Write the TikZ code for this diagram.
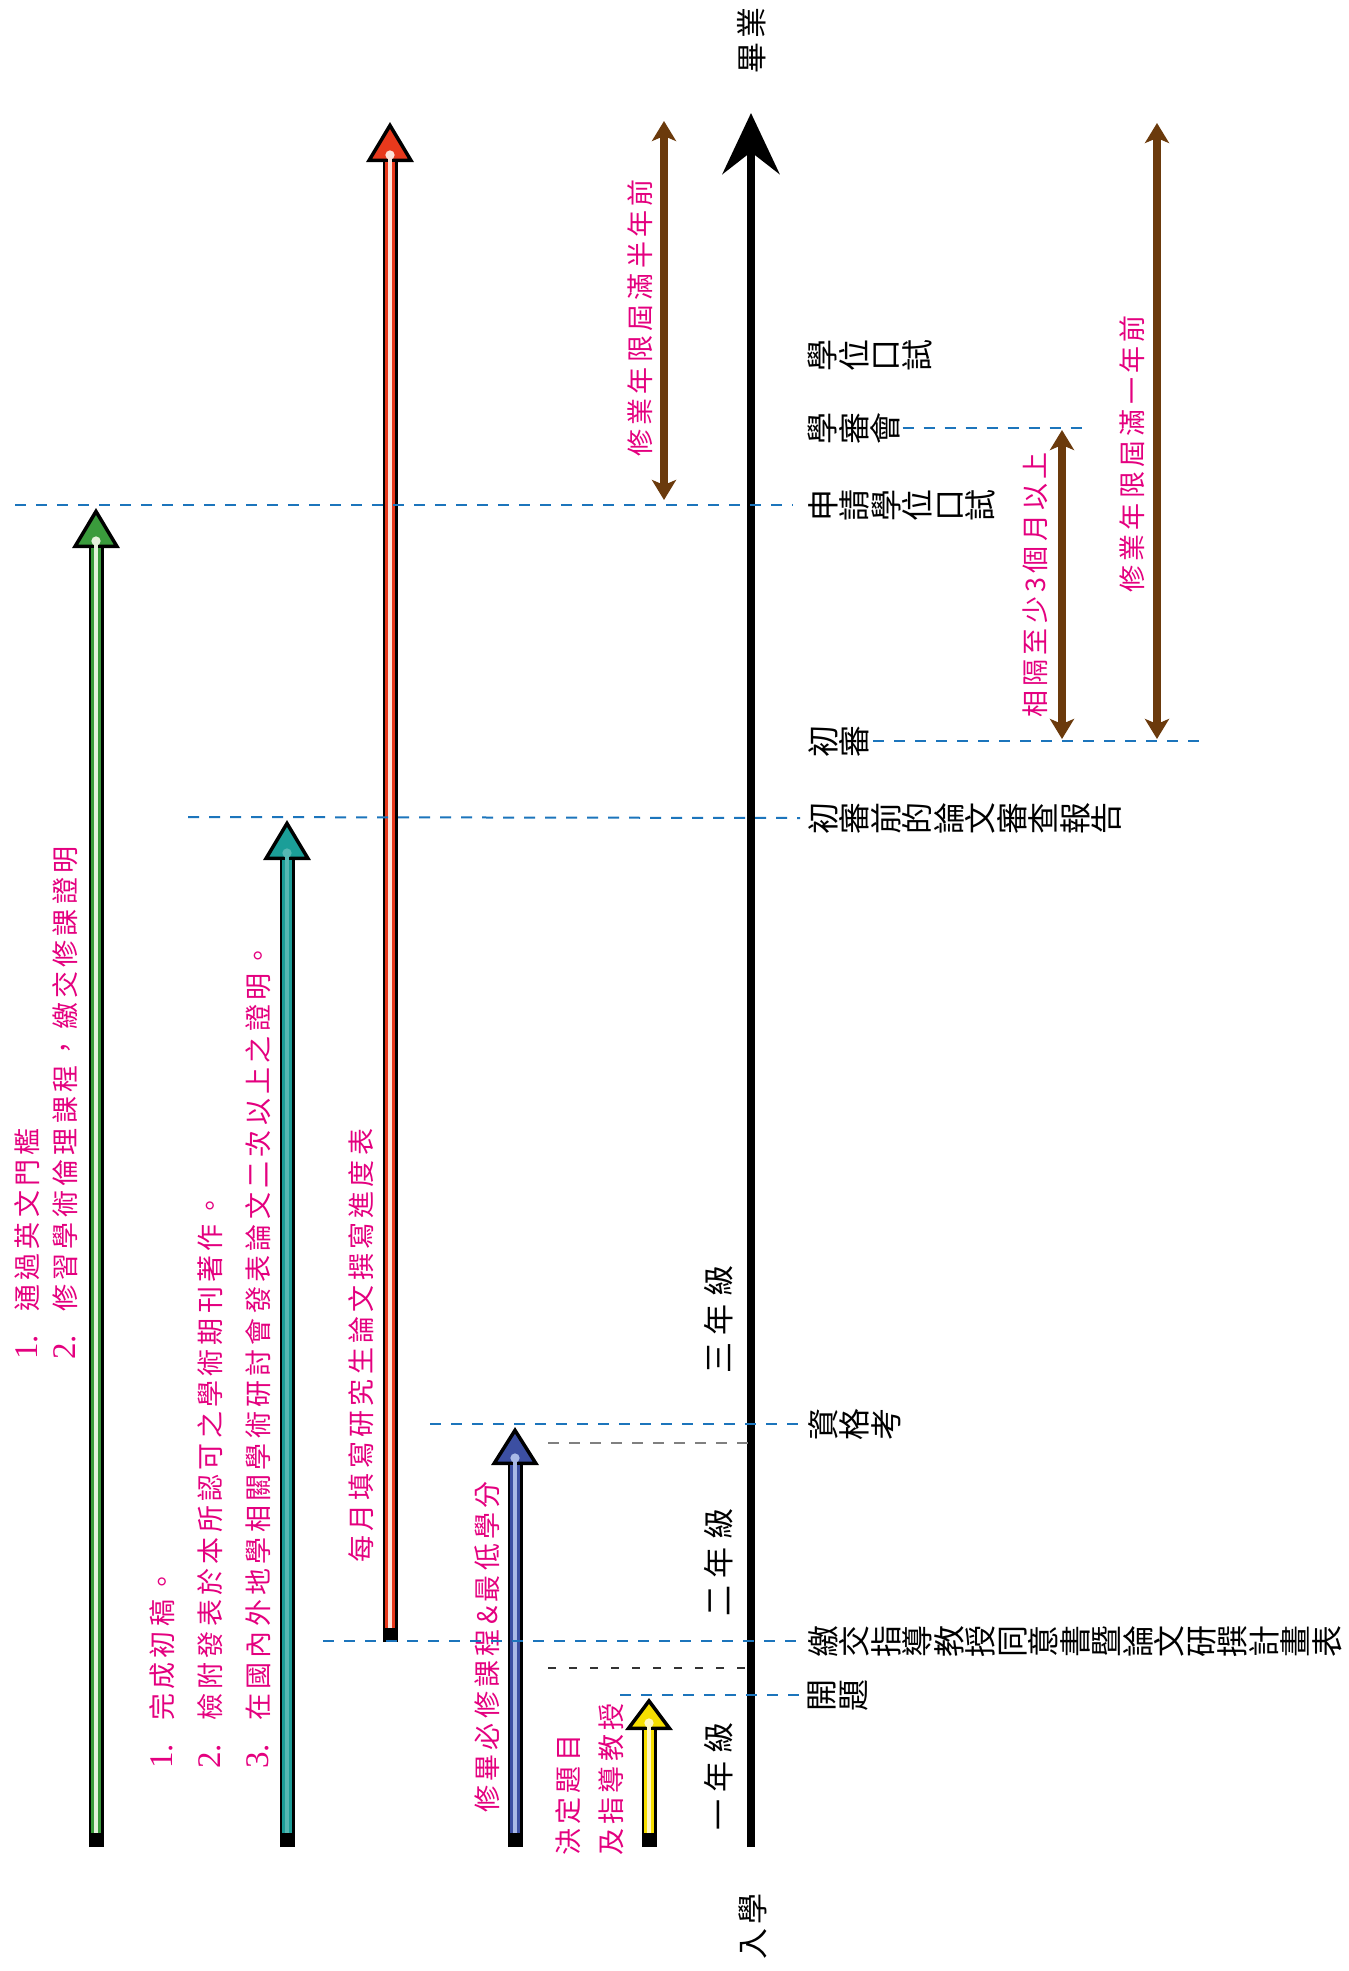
\documentclass[tikz,border=0pt]{standalone}
\usepackage{fontspec}
\usepackage{tikz}
\usetikzlibrary{arrows.meta}
\newfontfamily\cjk{Noto Sans CJK TC}
\newfontfamily\pinkfont{Noto Sans CJK TC}[LetterSpace=16]
\newfontfamily\yearfont{Noto Sans CJK TC}[LetterSpace=25]
\newfontfamily\endfont{Noto Sans CJK TC}[LetterSpace=13]
\newfontfamily\numfont{Liberation Serif}
\definecolor{pinktext}{HTML}{E4007F}
\definecolor{brownarr}{HTML}{6B3A0C}
\definecolor{guideblue}{HTML}{1C75BC}
\definecolor{mgreen}{HTML}{3A9B3C}
\definecolor{mgreenlt}{HTML}{E4F2DC}
\definecolor{mteal}{HTML}{1B9E98}
\definecolor{mteallt}{HTML}{56B8B3}
\definecolor{mred}{HTML}{E8391C}
\definecolor{mredlt}{HTML}{FCE3DA}
\definecolor{mblue}{HTML}{3C4FA2}
\definecolor{mbluelt}{HTML}{A9B9E6}
\definecolor{myellow}{HTML}{F6DE00}
\definecolor{myellowlt}{HTML}{FFF7C2}
% numbered item in the pink notes
\newcommand{\itm}[1]{\makebox[48pt][l]{\numfont\fontsize{33}{33}\selectfont #1}}
% block arrow: from, to, colour, light colour, head length
\newcommand{\milestone}[5]{%
  \pgfmathsetmacro{\dotgap}{#5-11.5}
  \draw[line width=15pt, -{Triangle[length=#5pt, width=47pt, line width=3.5pt, fill=#3]}] (#1) -- (#2);
  \draw[line width=10pt, draw=#3, shorten <=14pt, shorten >=#5pt] (#1) -- (#2);
  \draw[line width=3.5pt, draw=#4, shorten <=14pt, shorten >=\dotgap pt, -{Circle[length=9pt, fill=#4]}] (#1) -- (#2);
}

\begin{document}
\begin{tikzpicture}[
    x=1pt, y=-1pt,
    note/.style={rotate=90, anchor=west, inner sep=0pt, text=pinktext, align=left,
      font=\pinkfont\fontsize{27}{#1}\selectfont},
    note/.default=31,
    stage/.style={rotate=90, anchor=north, inner sep=0pt, align=center,
      font=\cjk\fontsize{32}{31.5}\selectfont},
    year/.style={rotate=90, anchor=west, inner sep=0pt, font=\yearfont\fontsize{31}{31}\selectfont},
    ends/.style={rotate=90, anchor=west, inner sep=0pt, font=\endfont\fontsize{31}{31}\selectfont},
    guide/.style={draw=guideblue, line width=2pt, dash pattern=on 11pt off 10pt},
    tick/.style={draw=black!50, line width=2pt, dash pattern=on 11pt off 10pt},
    thintick/.style={draw=black!80, line width=1.2pt, dash pattern=on 8pt off 13pt},
    span/.style={draw=brownarr, line width=8pt, >={Stealth[length=20pt,width=24pt,inset=5pt]}, <->},
    timeline/.style={line width=8pt, -{Stealth[length=61pt,width=57pt,inset=22pt]}}
  ]
  \fill[white] (0,0) rectangle (1349,1971);

  % time axis
  \coordinate (axis0) at (751,1847);
  \coordinate (axis1) at (751,113);
  \draw[timeline] (axis0) -- (axis1);

  % block arrows
  \coordinate (g0) at (96,1847);  \coordinate (g1) at (96,508);
  \coordinate (t0) at (287,1847); \coordinate (t1) at (287,820);
  \coordinate (r0) at (390,1642); \coordinate (r1) at (390,122);
  \coordinate (b0) at (515,1847); \coordinate (b1) at (515,1427);
  \coordinate (y0) at (649,1847); \coordinate (y1) at (649,1698);
  \milestone{g0}{g1}{mgreen}{mgreenlt}{40}
  \milestone{t0}{t1}{mteal}{mteallt}{40}
  \milestone{r0}{r1}{mred}{mredlt}{40}
  \milestone{b0}{b1}{mblue}{mbluelt}{38}
  \milestone{y0}{y1}{myellow}{myellowlt}{32}

  % brown spans
  \coordinate (h0) at (664,500);  \coordinate (h1) at (664,121);
  \coordinate (m0) at (1062,739); \coordinate (m1) at (1062,430);
  \coordinate (a0) at (1157,739); \coordinate (a1) at (1157,123);
  \draw[span] (h0) -- (h1);
  \draw[span] (m0) -- (m1);
  \draw[span] (a0) -- (a1);

  % stages along the axis
  \node[stage] (sOral) at (808,355) {學\\位\\口\\試};
  \node[stage] (sBoard) at (808,428) {學\\審\\會};
  \node[stage] (sApply) at (808,505) {申\\請\\學\\位\\口\\試};
  \node[stage] (sFirst) at (808,741) {初\\審};
  \node[stage] (sPre) at (808,818) {初\\審\\前\\的\\論\\文\\審\\查\\報\\告};
  \node[stage] (sQual) at (808,1424) {資\\格\\考};
  \node[stage] (sPlan) at (808,1641) {繳\\交\\指\\導\\教\\授\\同\\意\\書\\暨\\論\\文\\研\\撰\\計\\畫\\表};
  \node[stage] (sTopic) at (808,1695) {開\\題};

  \node[year] (yr1) at (719,1831) {一年級};
  \node[year] (yr2) at (719,1617) {二年級};
  \node[year] (yr3) at (719,1374) {三年級};
  \node[ends] (enrol) at (753,1960) {入學};
  \node[ends] (grad) at (752,74) {畢業};

  % pink notes
  \node[note=38] (noteA) at (46,1360) {\itm{1.}通過英文門檻\\\itm{2.}修習學術倫理課程，繳交修課證明};
  \node[note=48] (noteB) at (210,1769) {\itm{1.}完成初稿。\\\itm{2.}檢附發表於本所認可之學術期刊著作。\\\itm{3.}在國內外地學相關學術研討會發表論文二次以上之證明。};
  \node[note] (noteC) at (361,1563) {每月填寫研究生論文撰寫進度表};
  \node[note] (noteD) at (487,1813) {修畢必修課程\&最低學分};
  \node[note=43] (noteE) at (590,1856) {決定題目\\及指導教授};
  \node[note] (noteF) at (640,457) {修業年限屆滿半年前};
  \node[note] (noteG) at (1035,718) {相隔至少3個月以上};
  \node[note] (noteH) at (1132,593) {修業年限屆滿一年前};

  % dashed guides
  \coordinate (d1) at (15,505);
  \coordinate (d2) at (1083,428);
  \coordinate (d3) at (1203,741);
  \coordinate (d4) at (188,817);
  \coordinate (d5) at (430,1424);
  \coordinate (d6) at (323,1641);
  \coordinate (d7) at (620,1695);
  \coordinate (k1) at (548,1443);
  \coordinate (k2) at (548,1668);
  \draw[guide] (d1) -- ([xshift=-15pt]sApply.north);
  \draw[guide] ([xshift=2pt]sBoard.south) -- (d2);
  \draw[guide] ([xshift=4pt]sFirst.south) -- (d3);
  \draw[guide] (d4) -- ([xshift=-8pt]sPre.north);
  \draw[guide] (d5) -- ([xshift=-8pt]sQual.north);
  \draw[guide] (d6) -- ([xshift=-8pt]sPlan.north);
  \draw[guide] (d7) -- ([xshift=-8pt]sTopic.north);
  \draw[tick] (k1) -- (k1 -| axis0);
  \draw[thintick] (k2) -- (k2 -| axis0);
\end{tikzpicture}
\end{document}
